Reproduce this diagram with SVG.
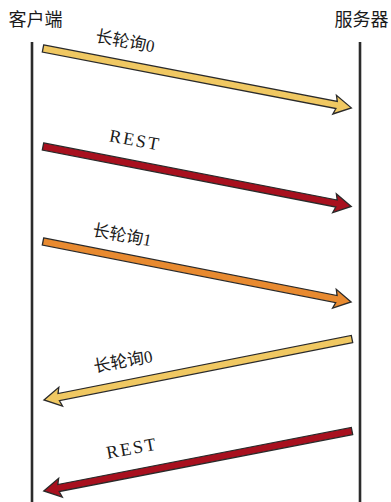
<svg xmlns="http://www.w3.org/2000/svg" width="391" height="502" viewBox="0 0 391 502">
<defs>
<style>
.life{stroke:#2b2b2b;stroke-width:2.6;fill:none}
.hdr{font-family:"Noto Sans CJK SC",sans-serif;font-size:18px;fill:#1a1a1a;text-anchor:middle}
.lbl{font-family:"Liberation Serif","Noto Sans CJK SC",serif;font-size:17px;fill:#1a1a1a;text-anchor:middle}
.rest{font-size:18px;letter-spacing:2px}
.arr{stroke:#2a2a2a;stroke-width:1.3;stroke-linejoin:miter}
.yel{fill:#F0C862}
.red{fill:#A8101E}
.org{fill:#E88A30}
</style>
<path id="arrow" d="M0,-3.6 L299,-3.6 L297,-9.5 L314,0 L297,9.5 L299,3.6 L0,3.6 Z"/>
</defs>
<rect width="391" height="502" fill="#ffffff"/>
<g id="client">
<text class="hdr" x="35.5" y="26">客户端</text>
<line class="life" x1="32" y1="42" x2="32" y2="502"/>
</g>
<g id="server">
<text class="hdr" x="361.5" y="26">服务器</text>
<line class="life" x1="360" y1="42" x2="360" y2="502"/>
</g>
<g id="connectors">
<g id="m1">
<use href="#arrow" class="arr yel" transform="translate(43,48.5) rotate(10.9)"/>
<text class="lbl" transform="translate(124,47) rotate(10.5)">长轮询0</text>
</g>
<g id="m2">
<use href="#arrow" class="arr red" transform="translate(43,146.5) rotate(11)"/>
<text class="lbl rest" transform="translate(134,146) rotate(10.5)">REST</text>
</g>
<g id="m3">
<use href="#arrow" class="arr org" transform="translate(43,241.5) rotate(11.1)"/>
<text class="lbl" transform="translate(121,241) rotate(10.5)">长轮询1</text>
</g>
<g id="m4">
<use href="#arrow" class="arr yel" transform="translate(352,339) rotate(168.8)"/>
<text class="lbl" transform="translate(124,367) rotate(-10.5)">长轮询0</text>
</g>
<g id="m5">
<use href="#arrow" class="arr red" transform="translate(352,431) rotate(169)"/>
<text class="lbl rest" transform="translate(133,454) rotate(-10.5)">REST</text>
</g>
</g>
</svg>
